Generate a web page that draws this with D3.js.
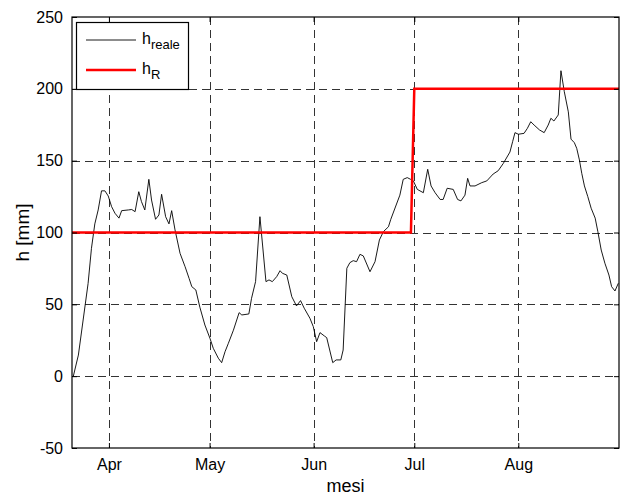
<!DOCTYPE html>
<html>
<head>
<meta charset="utf-8">
<script src="https://cdn.jsdelivr.net/npm/d3@7"></script>
<style>
  body { margin: 0; background: #fff; }
  svg { display: block; font-family: "Liberation Sans", Arial, sans-serif; }
</style>
</head>
<body>
<div id="container-id-1"></div>
<script>

// data
/////////////////////////////
// days counted from 21 March
var giorni = [0.4, 1.9, 4.8, 5.8, 6.8, 7.8, 8.8, 9.8, 10.8, 11.8, 12.8, 14.0, 14.8, 16.8, 17.8, 18.8,
  19.9, 20.7, 21.7, 22.9, 23.7, 24.9, 25.9, 26.7, 27.9, 28.9, 29.7, 30.7, 32.2, 33.7, 34.9, 35.7,
  36.9, 38.1, 39.6, 41.1, 42.1, 43.6, 44.6, 45.6, 46.6, 48.1, 49.8, 50.6, 52.7, 53.5, 54.7, 56.0,
  57.8, 58.7, 59.7, 61.0, 62.0, 62.7, 64.0, 65.5, 66.9, 68.1, 69.2, 70.9, 71.9, 72.9, 73.9, 75.2,
  75.9, 77.7, 78.7, 80.1, 80.8, 81.9, 82.8, 83.8, 84.8, 85.8, 86.8, 88.8, 90.3, 91.6, 92.8, 94.3,
  95.0, 97.7, 98.7, 99.9, 100.9, 101.7, 102.9, 104.7, 106.0, 107.0, 108.2, 109.7, 110.6, 111.8,
  113.6, 114.9, 115.9, 117.1, 117.9, 118.6, 120.1, 122.1, 123.6, 125.5, 127.0, 128.5, 130.5, 131.3,
  132.0, 133.0, 134.7, 135.7, 136.7, 137.7, 139.3, 140.7, 141.9, 142.7, 143.6, 144.9, 145.7, 146.7,
  147.9, 148.7, 149.7, 150.4, 151.2, 151.9, 152.7, 153.7, 154.7, 155.9, 156.7, 157.7, 158.8, 160.0,
  160.8, 161.8, 162.8];

var hReale = [0, 14.7, 64.6, 89, 106, 115.7, 129, 129, 125.4, 118, 113.4, 110, 115.2, 115.7, 116, 114.5,
  128.4, 121.5, 115.7, 137, 122.6, 109.2, 112.2, 126.6, 111, 106, 115.2, 101.8, 85.5, 76.2, 68, 62.3,
  60, 48, 35.6, 26.4, 19.4, 12.5, 9.4, 17, 22.9, 32, 44.2, 42.6, 43.3, 54.2, 65.8, 111,
  65.8, 67, 65.8, 69.3, 73.4, 71.6, 70.4, 55.3, 48.9, 52.6, 47.3, 40.3, 34.5, 24, 30.3, 28,
  26.8, 9.4, 11.3, 11.3, 18.2, 75.1, 79, 80.4, 79.7, 84.8, 83.7, 72.7, 79.7, 94.8, 100.6, 104,
  109.2, 126, 137, 138.2, 137, 136, 130, 127.7, 144, 132.4, 127.7, 123, 123, 130.8,
  130, 123, 122, 126, 137.7, 132.4, 132.4, 134.7, 135.9, 140.7, 143, 148, 156, 163.2,
  169.5, 168.4, 169, 172.5, 177.1, 174.8, 171.4, 169.5, 174.8, 179.5, 177.6, 181.8, 212.6, 198,
  184, 165, 162.5, 158.6, 150.5, 141.2, 132.4, 125, 116.9, 110, 100.6, 87.8, 78.6, 70.4,
  62.3, 59.3, 64.7];

// h_R steps from 100 to 200 at the start of July
var giorniR = [0, 101, 102, 163];
var hR = [100, 100, 200, 200];

var yTicks = [-50, 0, 50, 100, 150, 200, 250];
var mesiTicks = ['2009-04-01', '2009-05-01', '2009-06-01', '2009-07-01', '2009-08-01'];

// build the series
/////////////////////
var inizio = new Date(2009, 2, 21);
var fine = new Date(2009, 7, 31);

function giornoToDate(d){
  return new Date(inizio.getTime() + d * 864e5);
}

var realeData = giorni.map(function(d, i){ return {date: giornoToDate(d), h: hReale[i]}; });
var rData = giorniR.map(function(d, i){ return {date: giornoToDate(d), h: hR[i]}; });
var parseDay = d3.timeParse('%Y-%m-%d');

// make chart
////////////////////
var svg_width = 624;
var svg_height = 497;

var pLeft = 72, pRight = 619, pTop = 17, pBottom = 448;

var main_svg = d3.select('#container-id-1')
  .append('svg')
  .attr('width', svg_width)
  .attr('height', svg_height);

main_svg.append('rect')
  .attr('width', svg_width)
  .attr('height', svg_height)
  .attr('fill', '#fff');

var x = d3.scaleTime().domain([inizio, fine]).range([pLeft, pRight]);
var y = d3.scaleLinear().domain([-50, 250]).range([pBottom, pTop]);

// grid
var grid = main_svg.append('g')
  .attr('stroke', '#333')
  .attr('stroke-width', 1)
  .attr('stroke-dasharray', '8,5');

grid.selectAll('line.gy')
  .data(yTicks.slice(1, -1))
  .enter().append('line')
  .attr('x1', pLeft).attr('x2', pRight)
  .attr('y1', function(d){ return Math.round(y(d)) + 0.5; })
  .attr('y2', function(d){ return Math.round(y(d)) + 0.5; });

grid.selectAll('line.gx')
  .data(mesiTicks)
  .enter().append('line')
  .attr('x1', function(d){ return Math.round(x(parseDay(d))) + 0.5; })
  .attr('x2', function(d){ return Math.round(x(parseDay(d))) + 0.5; })
  .attr('y1', pTop).attr('y2', pBottom);

// series
var line = d3.line()
  .x(function(d){ return x(d.date); })
  .y(function(d){ return y(d.h); });

main_svg.append('path')
  .datum(realeData)
  .attr('fill', 'none')
  .attr('stroke', '#000')
  .attr('stroke-width', 0.9)
  .attr('d', line);

main_svg.append('path')
  .datum(rData)
  .attr('fill', 'none')
  .attr('stroke', '#ff0000')
  .attr('stroke-width', 2.5)
  .attr('d', line);

// axes (ticks pointing inward, box all round)
var yAxis = d3.axisLeft(y)
  .tickValues(yTicks)
  .tickFormat(function(d){ return String(d); })  // plain hyphen for -50
  .tickSizeInner(-5).tickSizeOuter(0).tickPadding(9);
var xAxis = d3.axisBottom(x)
  .tickValues(mesiTicks.map(parseDay))
  .tickFormat(d3.timeFormat('%b'))
  .tickSizeInner(-5).tickSizeOuter(0).tickPadding(11);

var gy = main_svg.append('g').attr('transform', 'translate(' + pLeft + ',0)').call(yAxis);
var gx = main_svg.append('g').attr('transform', 'translate(0,' + pBottom + ')').call(xAxis);

var gyR = main_svg.append('g').attr('transform', 'translate(' + pRight + ',0)')
  .call(d3.axisRight(y).tickValues(yTicks).tickSizeInner(-5).tickSizeOuter(0).tickFormat(''));
var gxT = main_svg.append('g').attr('transform', 'translate(0,' + pTop + ')')
  .call(d3.axisTop(x).tickValues(mesiTicks.map(parseDay)).tickSizeInner(-5).tickSizeOuter(0).tickFormat(''));

[gy, gx, gyR, gxT].forEach(function(g){
  g.select('.domain').remove();
  g.selectAll('line').attr('stroke', '#000');
  g.selectAll('text')
    .attr('fill', '#000')
    .style('font-size', '16px')
    .style('font-family', '"Liberation Sans", Arial, sans-serif');
});

main_svg.append('rect')
  .attr('x', pLeft).attr('y', pTop)
  .attr('width', pRight - pLeft).attr('height', pBottom - pTop)
  .attr('fill', 'none')
  .attr('stroke', '#000')
  .attr('stroke-width', 1.2);

// axis labels
main_svg.append('text')
  .attr('x', (pLeft + pRight) / 2)
  .attr('y', 492)
  .attr('text-anchor', 'middle')
  .style('font-size', '18px')
  .text('mesi');

main_svg.append('text')
  .attr('transform', 'translate(29,' + (pTop + pBottom) / 2 + ') rotate(-90)')
  .attr('text-anchor', 'middle')
  .style('font-size', '19px')
  .text('h [mm]');

// legend
////////////
var legend = main_svg.append('g');

legend.append('rect')
  .attr('x', 76.5).attr('y', 22.5)
  .attr('width', 112).attr('height', 67)
  .attr('fill', '#fff')
  .attr('stroke', '#000')
  .attr('stroke-width', 1.2);

var legendItems = [
  {sub: 'reale', color: '#000', width: 0.9},
  {sub: 'R', color: '#ff0000', width: 2.5}
];

legendItems.forEach(function(item, i){
  var ly = 40 + i * 30;
  legend.append('line')
    .attr('x1', 86).attr('x2', 136)
    .attr('y1', ly).attr('y2', ly)
    .attr('stroke', item.color)
    .attr('stroke-width', item.width);

  var t = legend.append('text')
    .attr('x', 142)
    .attr('y', ly + 4)
    .style('font-size', '16px');
  t.append('tspan').text('h');
  t.append('tspan')
    .attr('dy', 5)
    .style('font-size', '13px')
    .text(item.sub);
});

</script>
</body>
</html>
